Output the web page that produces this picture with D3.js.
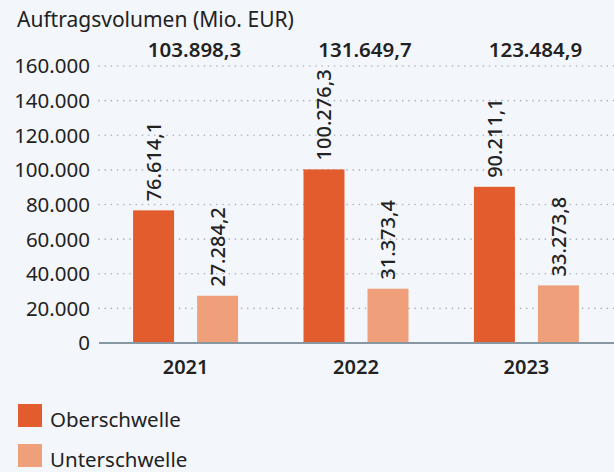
<!DOCTYPE html>
<html>
<head>
<meta charset="utf-8">
<script src="https://cdn.jsdelivr.net/npm/d3@7"></script>
<style>
  html, body { margin: 0; padding: 0; background: #f3f6fb; }
  svg { display: block; font-family: "Noto Sans", sans-serif; }
</style>
</head>
<body>
<svg id="chart"></svg>
<script>
const width = 614;
const height = 472;

// data
const years = ["2021", "2022", "2023"];
const series = ["Oberschwelle", "Unterschwelle"];
const oberschwelle = [76614.1, 100276.3, 90211.1];
const unterschwelle = [27284.2, 31373.4, 33273.8];
const oberLabels = ["76.614,1", "100.276,3", "90.211,1"];
const unterLabels = ["27.284,2", "31.373,4", "33.273,8"];
const totalLabels = ["103.898,3", "131.649,7", "123.484,9"];
const yTicks = [0, 20000, 40000, 60000, 80000, 100000, 120000, 140000, 160000];
const yTickLabels = ["0", "20.000", "40.000", "60.000", "80.000", "100.000", "120.000", "140.000", "160.000"];

const colors = { "Oberschwelle": "#e35c2e", "Unterschwelle": "#efa07b" };

const svg = d3.select("#chart")
  .attr("width", width)
  .attr("height", height);

const y = d3.scaleLinear()
  .domain([0, 160000])
  .range([343, 66]);

const x0 = d3.scaleBand()
  .domain(years)
  .range([99, 613])
  .paddingInner(0.384)
  .paddingOuter(0.2);

const x1 = d3.scaleBand()
  .domain(series)
  .range([0, x0.bandwidth()])
  .paddingInner(0.36);

// title
svg.append("text")
  .attr("x", 17)
  .attr("y", 27)
  .attr("font-size", 21)
  .attr("fill", "#222")
  .text("Auftragsvolumen (Mio. EUR)");

// gridlines
svg.append("g")
  .selectAll("line")
  .data(yTicks.filter(d => d > 0))
  .join("line")
  .attr("x1", 99)
  .attr("x2", width)
  .attr("y1", d => y(d))
  .attr("y2", d => y(d))
  .attr("stroke", "#a9b0b8")
  .attr("stroke-width", 1.6)
  .attr("stroke-linecap", "round")
  .attr("stroke-dasharray", "0,6.2");

// y tick labels
svg.append("g")
  .selectAll("text")
  .data(yTicks)
  .join("text")
  .attr("x", 90)
  .attr("y", d => y(d))
  .attr("dy", "0.36em")
  .attr("text-anchor", "end")
  .attr("font-size", 20.5)
  .attr("fill", "#222")
  .text((d, i) => yTickLabels[i]);

// bars
const rows = years.map((yr, i) => ({
  year: yr,
  values: [
    { key: "Oberschwelle", value: oberschwelle[i], label: oberLabels[i] },
    { key: "Unterschwelle", value: unterschwelle[i], label: unterLabels[i] }
  ]
}));

const groups = svg.append("g")
  .selectAll("g")
  .data(rows)
  .join("g")
  .attr("transform", d => `translate(${x0(d.year)},0)`);

groups.selectAll("rect")
  .data(d => d.values)
  .join("rect")
  .attr("x", d => x1(d.key))
  .attr("y", d => y(d.value))
  .attr("width", x1.bandwidth())
  .attr("height", d => y(0) - y(d.value))
  .attr("fill", d => colors[d.key]);

// rotated value labels
groups.selectAll("text.val")
  .data(d => d.values)
  .join("text")
  .attr("class", "val")
  .attr("transform", d => `translate(${x1(d.key) + x1.bandwidth() / 2},${y(d.value) - 9}) rotate(-90)`)
  .attr("dy", "0.36em")
  .attr("font-size", 20)
  .attr("font-weight", 500)
  .attr("fill", "#222")
  .text(d => d.label);

// totals
svg.append("g")
  .selectAll("text")
  .data(years)
  .join("text")
  .attr("x", d => x0(d) + x0.bandwidth() / 2 + 9)
  .attr("y", 57)
  .attr("text-anchor", "middle")
  .attr("font-size", 20.5)
  .attr("font-weight", 600)
  .attr("fill", "#222")
  .text((d, i) => totalLabels[i]);

// baseline
svg.append("line")
  .attr("x1", 99)
  .attr("x2", width)
  .attr("y1", y(0))
  .attr("y2", y(0))
  .attr("stroke", "#8798a3")
  .attr("stroke-width", 2);

// year labels
svg.append("g")
  .selectAll("text")
  .data(years)
  .join("text")
  .attr("x", d => x0(d) + x0.bandwidth() / 2)
  .attr("y", 374)
  .attr("text-anchor", "middle")
  .attr("font-size", 20)
  .attr("font-weight", 600)
  .attr("fill", "#222")
  .text(d => d);

// legend
const legend = svg.append("g")
  .selectAll("g")
  .data(series)
  .join("g")
  .attr("transform", (d, i) => `translate(18,${404 + i * 40})`);

legend.append("rect")
  .attr("width", 24)
  .attr("height", 23)
  .attr("fill", d => colors[d]);

legend.append("text")
  .attr("x", 32)
  .attr("y", 23)
  .attr("font-size", 20.5)
  .attr("fill", "#222")
  .text(d => d);
</script>
</body>
</html>
